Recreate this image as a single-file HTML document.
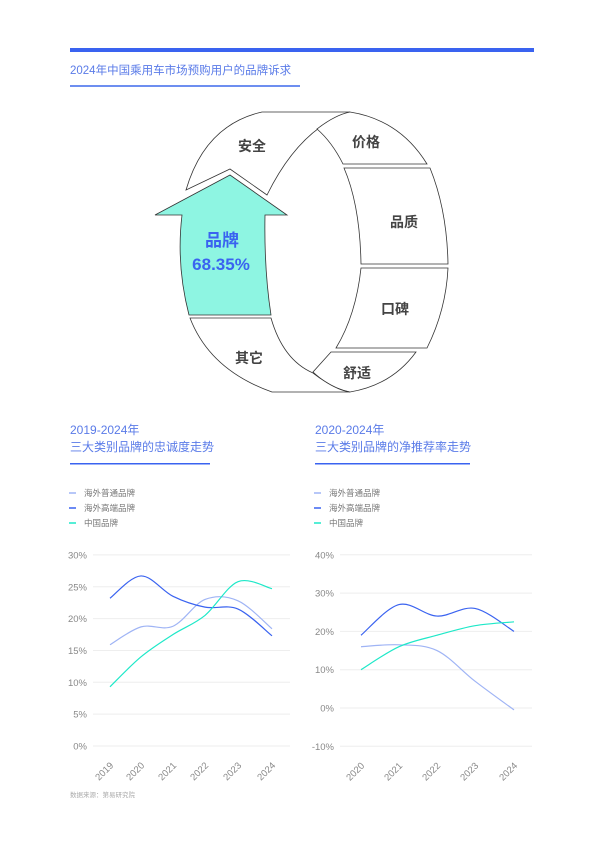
<!DOCTYPE html>
<html><head><meta charset="utf-8"><style>
body{margin:0;background:#fff;}
svg{display:block;font-family:"Liberation Sans","Noto Sans CJK SC",sans-serif;}
</style></head><body>
<svg id="s" width="600" height="842" viewBox="0 0 600 842" xmlns="http://www.w3.org/2000/svg">
<rect x="70" y="48" width="464" height="4" fill="#3a63f0"/>
<text x="70" y="74" font-size="11.5" fill="#5a7be8">2024年中国乘用车市场预购用户的品牌诉求</text>
<rect x="70" y="85" width="230" height="2" fill="#6d8ef0"/>

<g fill="#fff" stroke="#333" stroke-width="0.8">
<path d="M186,190 Q205,125 262,112 L350,112 Q300,128 267,195 L230,169 Z"/>
<path d="M317,129 Q335,115 350,112 Q400,120 427,164 L343,164 Q332,142 317,129 Z"/>
<path d="M344,168 L430,168 Q447,210 448,264 L361,264 Q360,205 344,168 Z"/>
<path d="M361,268 L448,268 Q446,310 427,348 L336,348 Q356,315 361,268 Z"/>
<path d="M331,352 L416,352 Q392,385 350,392 Q330,388 313,372 Z"/>
<path d="M190,318 L271,318 Q283,360 313,373 Q335,390 350,392 L272,392 Q210,370 190,318 Z"/>
</g>
<path d="M230,175 L287,215 L265,215 Q264,270 271,315 L189,315 Q176,265 182,215 L155,215 Z" fill="#8ef5e2" stroke="#333" stroke-width="0.8"/>
<g font-size="14" font-weight="bold" fill="#444" text-anchor="middle">
<text x="252" y="151">安全</text><text x="366" y="147">价格</text>
<text x="404" y="227">品质</text><text x="395" y="314">口碑</text>
<text x="357" y="378">舒适</text><text x="249" y="363">其它</text>
</g>
<text x="222" y="246" font-size="17" font-weight="bold" fill="#3a63f0" text-anchor="middle">品牌</text>
<text x="221" y="270" font-size="17" font-weight="bold" fill="#3a63f0" text-anchor="middle">68.35%</text>

<g font-size="12" fill="#5a7be8">
<text x="70" y="434">2019-2024年</text><text x="70" y="451">三大类别品牌的忠诚度走势</text>
<text x="315" y="434">2020-2024年</text><text x="315" y="451">三大类别品牌的净推荐率走势</text>
</g>
<rect x="70" y="463" width="140" height="1.5" fill="#3a63f0"/>
<rect x="315" y="463" width="155" height="1.5" fill="#3a63f0"/>
<g font-size="8.5" fill="#777">
<text x="84" y="496">海外普通品牌</text><text x="84" y="511">海外高端品牌</text><text x="84" y="526">中国品牌</text>
<text x="329" y="496">海外普通品牌</text><text x="329" y="511">海外高端品牌</text><text x="329" y="526">中国品牌</text>
</g>
<g stroke-width="1.5">
<line x1="69" y1="493" x2="76" y2="493" stroke="#9fb4f5"/><line x1="69" y1="508" x2="76" y2="508" stroke="#3a63f0"/><line x1="69" y1="523" x2="76" y2="523" stroke="#1ee8c8"/>
<line x1="314" y1="493" x2="321" y2="493" stroke="#9fb4f5"/><line x1="314" y1="508" x2="321" y2="508" stroke="#3a63f0"/><line x1="314" y1="523" x2="321" y2="523" stroke="#1ee8c8"/>
</g>
<g id="charts"></g>
<text x="70" y="797" font-size="6.5" fill="#aaa">数据来源：第易研究院</text>
</svg>
<script>
var g=document.getElementById('charts'),NS='http://www.w3.org/2000/svg';
function el(t,a,txt){var e=document.createElementNS(NS,t);for(var k in a)e.setAttribute(k,a[k]);if(txt)e.textContent=txt;g.appendChild(e);return e;}
function smooth(p){var d='M'+p[0][0]+','+p[0][1];for(var i=0;i<p.length-1;i++){var p0=p[i-1]||p[i],p1=p[i],p2=p[i+1],p3=p[i+2]||p2;
var c1x=p1[0]+(p2[0]-p0[0])/6,c1y=p1[1]+(p2[1]-p0[1])/6,c2x=p2[0]-(p3[0]-p1[0])/6,c2y=p2[1]-(p3[1]-p1[1])/6;
d+=' C'+c1x+','+c1y+' '+c2x+','+c2y+' '+p2[0]+','+p2[1];}return d;}
function chart(o){
 for(var i=0;i<o.ticks.length;i++){var v=o.ticks[i],y=o.y0-v*o.k;
  el('line',{x1:o.gx1,x2:o.gx2,y1:y,y2:y,stroke:'#eee','stroke-width':1});
  el('text',{x:o.gx1-6,y:y+3.5,'font-size':9.5,fill:'#888','text-anchor':'end'},v+'%');}
 for(var j=0;j<o.years.length;j++){var x=o.xs[j],y=o.y0-o.ticks[0]*o.k+20;
  el('text',{x:x+4,y:y,'font-size':9.5,fill:'#888','text-anchor':'end',transform:'rotate(-45 '+(x+4)+' '+y+')'},o.years[j]);}
 var cols=['#9fb4f5','#3a63f0','#1ee8c8'];
 for(var s=0;s<3;s++){var pts=o.data[s].map(function(v,i){return[o.xs[i],o.y0-v*o.k];});
  el('path',{d:smooth(pts),fill:'none',stroke:cols[s],'stroke-width':1.2});}
}
chart({ticks:[0,5,10,15,20,25,30],y0:746,k:6.37,gx1:93,gx2:290,years:['2019','2020','2021','2022','2023','2024'],xs:[110,141,173,205,238,272],
 data:[[15.9,18.7,18.8,23,22.8,18.4],[23.2,26.7,23.5,21.8,21.5,17.3],[9.3,14,17.5,20.5,25.8,24.7]]});
chart({ticks:[-10,0,10,20,30,40],y0:708,k:3.83,gx1:340,gx2:532,years:['2020','2021','2022','2023','2024'],xs:[361,399,437,475,514],
 data:[[16,16.5,15,7,-0.5],[19,27,24,26,20],[10,16,19,21.5,22.5]]});
</script>
</body></html>
